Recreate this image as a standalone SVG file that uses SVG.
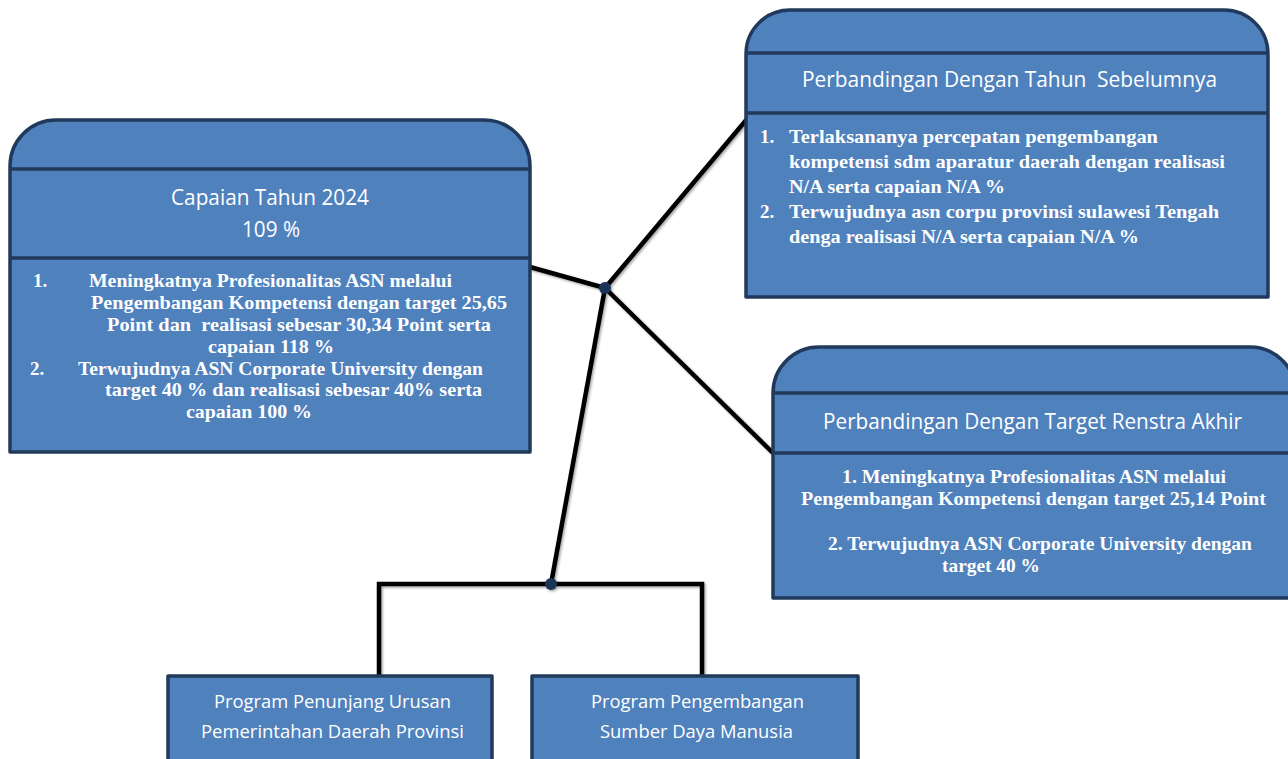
<svg xmlns="http://www.w3.org/2000/svg" width="1288" height="759" viewBox="0 0 1288 759">
<defs>
<style>
.box{fill:#4F81BD;stroke:#213A5C;stroke-width:3.5;stroke-linejoin:round}
.div{stroke:#213A5C;stroke-width:3.5;fill:none}
.ttl{font-family:"Open Sans","Noto Sans","Liberation Sans",sans-serif;font-size:21px;fill:#FFFFFF;white-space:pre}
.prg{font-family:"Open Sans","Noto Sans","Liberation Sans",sans-serif;font-size:19px;fill:#FFFFFF}
.bd{font-family:"Liberation Serif","DejaVu Serif",serif;font-weight:bold;font-size:19px;fill:#FFFFFF;white-space:pre}
.ln{stroke:#000000;stroke-width:4.5;fill:none;stroke-linecap:butt;stroke-linejoin:miter}
.dot{fill:#1E3556}
</style>
<filter id="sh" x="-10%" y="-10%" width="120%" height="120%">
<feDropShadow dx="1.5" dy="1.5" stdDeviation="1" flood-color="#000000" flood-opacity="0.35"/>
</filter>
</defs>
<rect width="1288" height="759" fill="#FFFFFF"/>

<g id="connectors" filter="url(#sh)">
<line class="ln" x1="530" y1="267" x2="605" y2="288"/>
<line class="ln" x1="605" y1="288" x2="747" y2="119"/>
<line class="ln" x1="605" y1="288" x2="773" y2="453"/>
<line class="ln" x1="605" y1="288" x2="551" y2="584"/>
<polyline class="ln" points="379,676 379,584 702,584 702,676"/>
<circle class="dot" cx="605" cy="288" r="6"/>
<circle class="dot" cx="551" cy="584" r="6"/>
</g>

<g id="capaian">
<path class="box" d="M10,166 A46,46 0 0 1 56,120 H484 A46,46 0 0 1 530,166 V452 H10 Z"/>
<line class="div" x1="10" y1="169" x2="530" y2="169"/>
<line class="div" x1="10" y1="258" x2="530" y2="258"/>
<text class="ttl" x="171" y="205" textLength="198" lengthAdjust="spacingAndGlyphs">Capaian Tahun 2024</text>
<text class="ttl" x="242" y="237" textLength="58" lengthAdjust="spacingAndGlyphs">109 %</text>
<text class="bd" x="33" y="287">1.</text>
<text class="bd" x="89" y="287" textLength="363" lengthAdjust="spacingAndGlyphs">Meningkatnya Profesionalitas ASN melalui</text>
<text class="bd" x="91" y="309" textLength="416" lengthAdjust="spacingAndGlyphs">Pengembangan Kompetensi dengan target 25,65</text>
<text class="bd" x="107" y="331" textLength="384" lengthAdjust="spacingAndGlyphs">Point dan  realisasi sebesar 30,34 Point serta</text>
<text class="bd" x="208" y="353" textLength="126" lengthAdjust="spacingAndGlyphs">capaian 118 %</text>
<text class="bd" x="30" y="375">2.</text>
<text class="bd" x="78" y="375" textLength="405" lengthAdjust="spacingAndGlyphs">Terwujudnya ASN Corporate University dengan</text>
<text class="bd" x="105" y="396" textLength="377" lengthAdjust="spacingAndGlyphs">target 40 % dan realisasi sebesar 40% serta</text>
<text class="bd" x="186" y="418" textLength="126" lengthAdjust="spacingAndGlyphs">capaian 100 %</text>
</g>

<g id="tahun-sebelumnya">
<path class="box" d="M746,54 A44,44 0 0 1 790,10 H1224 A44,44 0 0 1 1268,54 V297 H746 Z"/>
<line class="div" x1="746" y1="53" x2="1268" y2="53"/>
<line class="div" x1="746" y1="113" x2="1268" y2="113"/>
<text class="ttl" x="802" y="87" textLength="415" lengthAdjust="spacingAndGlyphs">Perbandingan Dengan Tahun  Sebelumnya</text>
<text class="bd" x="760" y="143">1.</text>
<text class="bd" x="789" y="143" textLength="369" lengthAdjust="spacingAndGlyphs">Terlaksananya percepatan pengembangan</text>
<text class="bd" x="789" y="168" textLength="436" lengthAdjust="spacingAndGlyphs">kompetensi sdm aparatur daerah dengan realisasi</text>
<text class="bd" x="789" y="193" textLength="216" lengthAdjust="spacingAndGlyphs">N/A serta capaian N/A %</text>
<text class="bd" x="760" y="218">2.</text>
<text class="bd" x="789" y="218" textLength="430" lengthAdjust="spacingAndGlyphs">Terwujudnya asn corpu provinsi sulawesi Tengah</text>
<text class="bd" x="789" y="243" textLength="350" lengthAdjust="spacingAndGlyphs">denga realisasi N/A serta capaian N/A %</text>
</g>

<g id="target-renstra">
<path class="box" d="M773,393 A46,46 0 0 1 819,347 H1250 A46,46 0 0 1 1296,393 V598 H773 Z"/>
<line class="div" x1="773" y1="393" x2="1296" y2="393"/>
<line class="div" x1="773" y1="453" x2="1296" y2="453"/>
<text class="ttl" x="823" y="429" textLength="419" lengthAdjust="spacingAndGlyphs">Perbandingan Dengan Target Renstra Akhir</text>
<text class="bd" x="842" y="483" textLength="384" lengthAdjust="spacingAndGlyphs">1. Meningkatnya Profesionalitas ASN melalui</text>
<text class="bd" x="801" y="505" textLength="465" lengthAdjust="spacingAndGlyphs">Pengembangan Kompetensi dengan target 25,14 Point</text>
<text class="bd" x="828" y="550" textLength="424" lengthAdjust="spacingAndGlyphs">2. Terwujudnya ASN Corporate University dengan</text>
<text class="bd" x="942" y="572" textLength="98" lengthAdjust="spacingAndGlyphs">target 40 %</text>
</g>

<g id="program-penunjang">
<rect class="box" x="168" y="676" width="324" height="100"/>
<text class="prg" x="214" y="708" textLength="237" lengthAdjust="spacingAndGlyphs">Program Penunjang Urusan</text>
<text class="prg" x="201" y="738" textLength="263" lengthAdjust="spacingAndGlyphs">Pemerintahan Daerah Provinsi</text>
</g>

<g id="program-sdm">
<rect class="box" x="532" y="676" width="326" height="100"/>
<text class="prg" x="591" y="708" textLength="213" lengthAdjust="spacingAndGlyphs">Program Pengembangan</text>
<text class="prg" x="600" y="738" textLength="193" lengthAdjust="spacingAndGlyphs">Sumber Daya Manusia</text>
</g>
</svg>
